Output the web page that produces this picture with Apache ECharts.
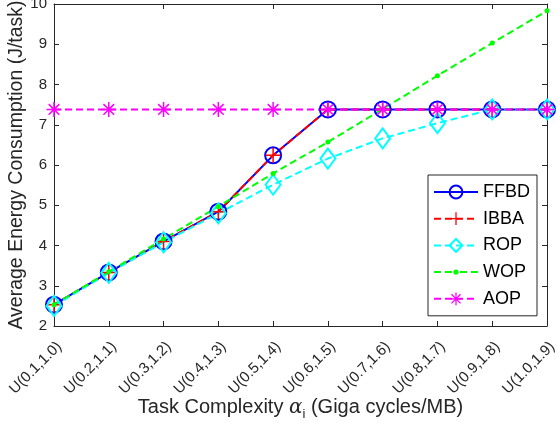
<!DOCTYPE html>
<html>
<head>
<meta charset="utf-8">
<script src="https://cdn.jsdelivr.net/npm/echarts@6/dist/echarts.min.js"></script>
<style>
  html, body { margin: 0; padding: 0; background: #fff; }
  #chart { width: 557px; height: 428px; }
</style>
</head>
<body>
<div id="chart"></div>
<script>
// categories on the x axis
var categories = ['U(0.1,1.0)', 'U(0.2,1.1)', 'U(0.3,1.2)', 'U(0.4,1.3)', 'U(0.5,1.4)',
                  'U(0.6,1.5)', 'U(0.7,1.6)', 'U(0.8,1.7)', 'U(0.9,1.8)', 'U(1.0,1.9)'];
// y ticks
var yTicks = [2, 3, 4, 5, 6, 7, 8, 9, 10];

// series values (J/task)
var ffbd = [2.53, 3.33, 4.10, 4.84, 6.24, 7.38, 7.38, 7.38, 7.38, 7.38];
var ibba = [2.53, 3.33, 4.10, 4.84, 6.24, 7.38, 7.38, 7.38, 7.38, 7.38];
var rop  = [2.50, 3.32, 4.08, 4.80, 5.51, 6.16, 6.66, 7.04, 7.38, 7.38];
var wop  = [2.53, 3.35, 4.16, 4.97, 5.79, 6.57, 7.39, 8.22, 9.03, 9.83];
var aop  = [7.38, 7.38, 7.38, 7.38, 7.38, 7.38, 7.38, 7.38, 7.38, 7.38];

var txt = '#262626';
var font = 'Liberation Sans, Arial, Helvetica, sans-serif';
var dash = [7, 4];

var plusPath = 'path://M-1,-10h2v20h-2z M-10,-1h20v2h-20z';
var starPath = 'path://M-1,-10h2v20h-2z M-10,-1h20v2h-20z ' +
               'M-7.8,-6.4L-6.4,-7.8L7.8,6.4L6.4,7.8z M6.4,-7.8L7.8,-6.4L-6.4,7.8L-7.8,6.4z';
// legend icon for WOP: dashed line with a small dot in the middle
var wopIcon = 'path://M0,7h7v2h-7z M11,7h7v2h-7z M26,7h7v2h-7z M37,7h7v2h-7z ' +
              'M19.3,8a2.7,2.7 0 1,0 5.4,0a2.7,2.7 0 1,0 -5.4,0z';

var chart = echarts.init(document.getElementById('chart'));

var option = {
  animation: false,
  backgroundColor: '#fff',
  textStyle: { fontFamily: font, color: txt },
  grid: { left: 54, right: 10, top: 4, bottom: 102, containLabel: false, outerBoundsMode: 'none' },
  legend: {
    orient: 'vertical',
    right: 20,
    top: 175,
    backgroundColor: '#fff',
    borderColor: txt,
    borderWidth: 1,
    borderRadius: 0,
    padding: [8, 7, 8, 5],
    itemWidth: 44,
    itemHeight: 16,
    itemGap: 8.7,
    textStyle: { fontSize: 18, lineHeight: 18, color: '#000', fontFamily: font },
    data: ['FFBD', 'IBBA', 'ROP', { name: 'WOP', icon: wopIcon }, 'AOP']
  },
  xAxis: [
    {
      type: 'category',
      data: categories,
      boundaryGap: false,
      axisLine: { lineStyle: { color: txt, width: 1 } },
      axisTick: { inside: true, length: 5, lineStyle: { color: txt } },
      axisLabel: { rotate: 45, fontSize: 15, color: txt, margin: 13, verticalAlign: 'top', fontFamily: font },
      splitLine: { show: false },
      name: '{t|Task Complexity }{a|α}{s|i}{t| (Giga cycles/MB)}',
      nameLocation: 'middle',
      nameGap: 68,
      nameMoveOverlap: false,
      nameTextStyle: {
        fontSize: 20, color: txt, fontFamily: font,
        rich: {
          t: { fontSize: 20, color: txt, fontFamily: font },
          a: { fontSize: 20, color: txt, fontStyle: 'italic', fontFamily: 'DejaVu Serif, serif' },
          s: { fontSize: 13, color: txt, fontFamily: font, padding: [14, 0, 0, 0] }
        }
      }
    },
    {
      type: 'category',
      data: categories,
      boundaryGap: false,
      position: 'top',
      axisLine: { lineStyle: { color: txt, width: 1 } },
      axisTick: { inside: true, length: 5, lineStyle: { color: txt } },
      axisLabel: { show: false },
      splitLine: { show: false }
    }
  ],
  yAxis: [
    {
      type: 'value',
      min: 2, max: 10, interval: 1,
      axisLine: { show: true, lineStyle: { color: txt, width: 1 } },
      axisTick: { show: true, inside: true, length: 5, lineStyle: { color: txt } },
      axisLabel: { fontSize: 15, color: txt, margin: 7, fontFamily: font },
      splitLine: { show: false },
      name: 'Average Energy Consumption (J/task)',
      nameLocation: 'middle',
      nameGap: 27,
      nameMoveOverlap: false,
      nameTextStyle: { fontSize: 19.5, color: txt, fontFamily: font }
    },
    {
      type: 'value',
      min: 2, max: 10, interval: 1,
      position: 'right',
      axisLine: { show: true, lineStyle: { color: txt, width: 1 } },
      axisTick: { show: true, inside: true, length: 5, lineStyle: { color: txt } },
      axisLabel: { show: false },
      splitLine: { show: false }
    }
  ],
  series: [
    {
      name: 'FFBD', type: 'line', data: ffbd,
      symbol: 'circle', symbolSize: 16,
      lineStyle: { color: '#0000ff', width: 2 },
      itemStyle: { color: 'rgba(0,0,0,0)', borderColor: '#0000ff', borderWidth: 2 }
    },
    {
      name: 'IBBA', type: 'line', data: ibba,
      symbol: plusPath, symbolSize: 15,
      lineStyle: { color: '#ff0000', width: 2, type: dash },
      itemStyle: { color: '#ff0000', borderWidth: 0 }
    },
    {
      name: 'ROP', type: 'line', data: rop,
      symbol: 'diamond', symbolSize: [15, 20],
      lineStyle: { color: '#00ffff', width: 2, type: dash },
      itemStyle: { color: 'rgba(0,0,0,0)', borderColor: '#00ffff', borderWidth: 2 }
    },
    {
      name: 'WOP', type: 'line', data: wop,
      symbol: 'circle', symbolSize: 5,
      lineStyle: { color: '#00ff00', width: 2, type: dash },
      itemStyle: { color: '#00ff00', borderWidth: 0 }
    },
    {
      name: 'AOP', type: 'line', data: aop,
      symbol: starPath, symbolSize: 15,
      lineStyle: { color: '#ff00ff', width: 2, type: dash },
      itemStyle: { color: '#ff00ff', borderWidth: 0 }
    }
  ]
};

chart.setOption(option);
</script>
</body>
</html>
